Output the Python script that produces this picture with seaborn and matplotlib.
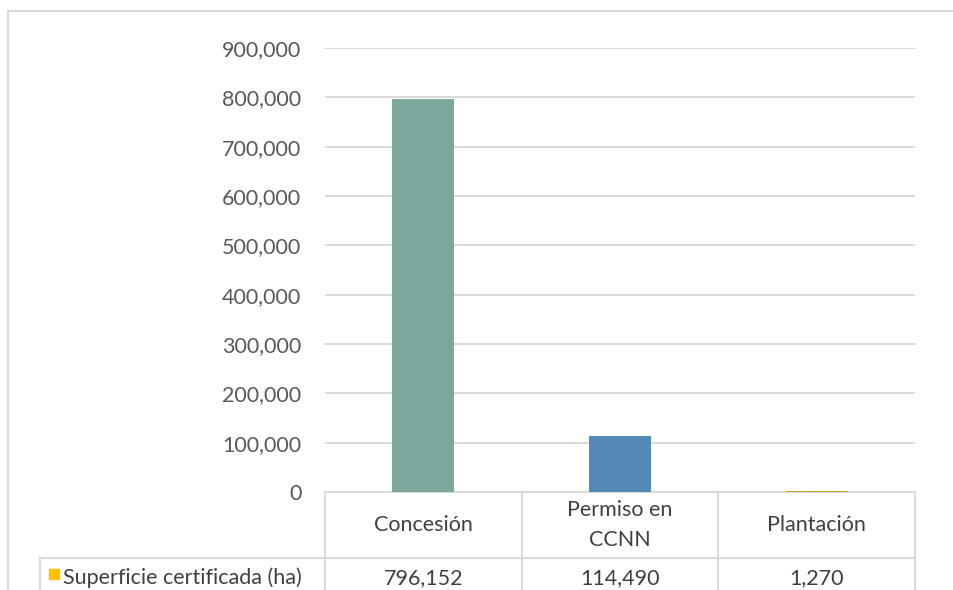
import matplotlib
matplotlib.use("Agg")
import matplotlib.pyplot as plt
import matplotlib.transforms as mtransforms
from matplotlib.lines import Line2D
from matplotlib.patches import Rectangle
import seaborn as sns
import pandas as pd

categories = ["Concesión", "Permiso en\nCCNN", "Plantación"]
values = [796152, 114490, 1270]
series_name = "Superficie certificada (ha)"
bar_colors = ["#7BA79D", "#5489B6", "#C9A227"]
legend_color = "#FFC000"
yticks = [0, 100000, 200000, 300000, 400000, 500000, 600000, 700000, 800000, 900000]

sns.set_theme(style="white")
plt.rcParams["font.family"] = ["Lato", "DejaVu Sans"]

W, H = 954, 590
FS = 15.5
TXT = "#404040"
fig = plt.figure(figsize=(W / 100, H / 100), dpi=100)
fig.patch.set_facecolor("white")

def fx(px):
    return px / W

def fy(py):
    return 1 - py / H

ax_left, ax_right, ax_top, ax_bottom = 325, 915, 48, 492
ax = fig.add_axes([fx(ax_left), fy(ax_bottom), fx(ax_right - ax_left), (ax_bottom - ax_top) / H])

df = pd.DataFrame({"cat": categories, "val": values})
sns.barplot(data=df, x="cat", y="val", hue="cat", palette=bar_colors, width=0.315,
            legend=False, ax=ax, saturation=1, zorder=3, linewidth=0)

ax.set_ylim(0, 900000)
ax.set_xlim(-0.5, len(categories) - 0.5)
ax.set_yticks(yticks)
ax.set_yticklabels([f"{v:,}" for v in yticks], color="#595959", fontsize=FS)
ax.tick_params(axis="y", length=0, pad=17)
ax.set_xticks([])
ax.set_xlabel("")
ax.set_ylabel("")
for s in ax.spines.values():
    s.set_visible(False)
ax.yaxis.grid(True, color="#D9D9D9", linewidth=1.4)
ax.set_axisbelow(True)

grid_c = "#D9D9D9"
lw = 1.4
trans = mtransforms.blended_transform_factory(ax.transData, fig.transFigure)
edges = [i - 0.5 for i in range(len(categories) + 1)]

# table horizontal lines
ax.add_line(Line2D([edges[0], edges[-1]], [fy(492), fy(492)], transform=trans, color=grid_c, lw=lw, clip_on=False))
fig.add_artist(Line2D([fx(40), fx(915)], [fy(558), fy(558)], color=grid_c, lw=lw))
# vertical lines
for e in edges:
    ax.add_line(Line2D([e, e], [fy(492), fy(592)], transform=trans, color=grid_c, lw=lw, clip_on=False))
fig.add_artist(Line2D([fx(40), fx(40)], [fy(558), fy(592)], color=grid_c, lw=lw))

# header and values
for i, (c, v) in enumerate(zip(categories, values)):
    ax.text(i, fy(525), c, transform=trans, ha="center", va="center", fontsize=FS,
            color=TXT, linespacing=1.6)
    ax.text(i, fy(578), f"{v:,}", transform=trans, ha="center", va="center", fontsize=FS,
            color=TXT)

# legend key + series name
fig.add_artist(Rectangle((fx(49), fy(579)), fx(10), 10 / H, color=legend_color, transform=fig.transFigure))
fig.text(fx(63), fy(578), series_name, ha="left", va="center", fontsize=FS, color=TXT)

# outer chart border
fig.add_artist(Line2D([fx(8.5), fx(8.5)], [fy(10.5), 0], color=grid_c, lw=lw))
fig.add_artist(Line2D([fx(8.5), 1], [fy(10.5), fy(10.5)], color=grid_c, lw=lw))

fig.savefig("out.png", dpi=100, facecolor="white")
